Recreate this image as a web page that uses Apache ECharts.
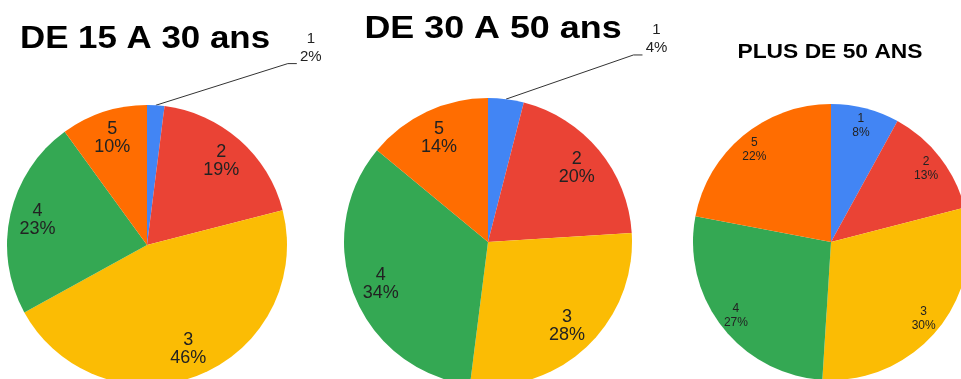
<!DOCTYPE html>
<html>
<head>
<meta charset="utf-8">
<script src="https://cdn.jsdelivr.net/npm/echarts@6/dist/echarts.min.js"></script>
<style>
  html, body { margin: 0; padding: 0; background: #fff; }
  #chart { width: 961px; height: 379px; }
</style>
</head>
<body>
<div id="chart"></div>
<script>
// Answer categories and share (%) for each age group
const categories = ['1', '2', '3', '4', '5'];
const age15to30 = [2, 19, 46, 23, 10];
const age30to50 = [4, 20, 28, 34, 14];
const age50plus = [8, 13, 30, 27, 22];
const titles = ['DE 15 A 30 ans', 'DE 30 A 50 ans', 'PLUS DE 50 ANS'];

const colors = ['#4285F4', '#EA4335', '#FBBC04', '#34A853', '#FF6D01'];
const FONT = "'Liberation Sans', Arial, sans-serif";

// Layout of the three pies: center, radius, label ring, label font
const pies = [
  { values: age15to30, cx: 147, cy: 245, r: 140, ring: 0.56, fs: 18, lh: 18, firstOutside: true },
  { values: age30to50, cx: 488, cy: 242, r: 144, ring: 0.56, fs: 18, lh: 18, firstOutside: true },
  { values: age50plus, cx: 831, cy: 242, r: 138, ring: 0.70, fs: 12, lh: 14, firstOutside: false }
];

const series = [];
pies.forEach(function (p) {
  // Slices; the smallest slice of the first two pies gets an outside label
  series.push({
    type: 'pie',
    center: [p.cx, p.cy],
    radius: [0, p.r],
    startAngle: 90,
    clockwise: true,
    avoidLabelOverlap: false,
    silent: true,
    itemStyle: { borderWidth: 0 },
    label: { show: false },
    labelLine: { show: false },
    data: categories.map(function (c, i) {
      const item = { name: c, value: p.values[i], itemStyle: { color: colors[i] } };
      if (i === 0 && p.firstOutside) {
        item.label = {
          show: true, position: 'outside',
          formatter: '{b}\n{c}%',
          fontFamily: FONT, fontSize: 15, lineHeight: 18, color: '#222', align: 'center'
        };
        item.labelLine = { show: true, lineStyle: { color: '#333', width: 1 } };
      }
      return item;
    }),
    labelLayout: function (params) {
      if (!(p.firstOutside && params.dataIndex === 0) || !params.labelLinePoints) return;
      const lx = p.cx + 1.17 * p.r;
      const ly = p.cy - 1.41 * p.r;
      const start = params.labelLinePoints[0];
      return {
        x: lx, y: ly, align: 'center', verticalAlign: 'middle',
        labelLinePoints: [start, [lx - 23, ly + 16], [lx - 14, ly + 16]]
      };
    }
  });
  // Transparent ring carrying the inside labels at the proper radius
  series.push({
    type: 'pie',
    center: [p.cx, p.cy],
    radius: [p.ring * p.r, p.r],
    startAngle: 90,
    clockwise: true,
    silent: true,
    avoidLabelOverlap: false,
    itemStyle: { color: 'rgba(0,0,0,0)', borderWidth: 0 },
    labelLine: { show: false },
    label: {
      show: true, position: 'inside',
      formatter: '{b}\n{c}%',
      fontFamily: FONT, fontSize: p.fs, lineHeight: p.lh, color: '#222'
    },
    data: categories.map(function (c, i) {
      const item = { name: c, value: p.values[i] };
      if (i === 0 && p.firstOutside) item.label = { show: false };
      return item;
    })
  });
});

// Titles above each pie
const titleStyles = [
  { x: 145, y: 39, size: 31, sx: 1.125 },
  { x: 493, y: 29, size: 31, sx: 1.157 },
  { x: 830, y: 53, size: 19.5, sx: 1.17 }
];
const graphic = titles.map(function (t, i) {
  const s = titleStyles[i];
  return {
    type: 'text', x: s.x, y: s.y, scaleX: s.sx, silent: true,
    style: {
      text: t, font: 'bold ' + s.size + 'px ' + FONT, fill: '#000',
      textAlign: 'center', textVerticalAlign: 'middle'
    }
  };
});

const chart = echarts.init(document.getElementById('chart'), null, { renderer: 'canvas' });
chart.setOption({
  animation: false,
  backgroundColor: '#fff',
  series: series,
  graphic: graphic
});
</script>
</body>
</html>
